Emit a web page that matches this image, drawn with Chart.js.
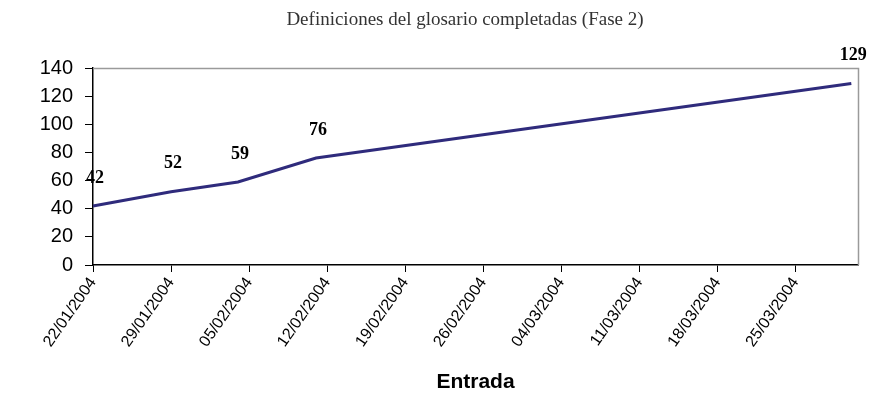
<!DOCTYPE html>
<html>
<head>
<meta charset="utf-8">
<script src="https://cdn.jsdelivr.net/npm/chart.js@4.4.1/dist/chart.umd.min.js"></script>
<style>
    html, body { margin: 0; padding: 0; background: #fff; }
    #wrap { width: 869px; height: 406px; }
</style>
</head>
<body>
<div id="wrap"><canvas id="glosarioChart"></canvas></div>
<script>
// datos
const fechas = ['22/01/2004', '29/01/2004', '04/02/2004', '11/02/2004', '30/03/2004'];
const definiciones = [42, 52, 59, 76, 129];
const semanas = ['22/01/2004', '29/01/2004', '05/02/2004', '12/02/2004', '19/02/2004',
    '26/02/2004', '04/03/2004', '11/03/2004', '18/03/2004', '25/03/2004'];
const ticksY = [0, 20, 40, 60, 80, 100, 120, 140];
const titulo = 'Definiciones del glosario completadas (Fase 2)';
const tituloEje = 'Entrada';

function dia(s) {
    const [d, m, y] = s.split('/').map(Number);
    return Math.round((Date.UTC(y, m - 1, d) - Date.UTC(2004, 0, 22)) / 864e5);
}

const puntos = fechas.map((f, i) => ({ x: dia(f), y: definiciones[i] }));

const marcoPlugin = {
    id: 'marco',
    beforeDatasetsDraw(chart) {
        const { ctx, chartArea: a } = chart;
        ctx.save();
        ctx.strokeStyle = '#9a9a9a';
        ctx.lineWidth = 1.5;
        ctx.beginPath();
        ctx.moveTo(a.left, a.top + 0.5);
        ctx.lineTo(a.right + 0.5, a.top + 0.5);
        ctx.lineTo(a.right + 0.5, a.bottom);
        ctx.stroke();
        ctx.restore();
    }
};

const etiquetasPlugin = {
    id: 'etiquetas',
    afterDatasetsDraw(chart) {
        const { ctx } = chart;
        const meta = chart.getDatasetMeta(0);
        ctx.save();
        ctx.font = 'bold 18px "Liberation Serif"';
        ctx.fillStyle = '#000';
        ctx.textAlign = 'center';
        ctx.textBaseline = 'middle';
        meta.data.forEach((p, i) => {
            ctx.fillText(String(definiciones[i]), p.x + 2, p.y - 28);
        });
        ctx.restore();
    }
};

const tituloPlugin = {
    id: 'tituloArriba',
    afterDraw(chart) {
        const { ctx } = chart;
        ctx.save();
        ctx.font = '19px "Liberation Serif"';
        ctx.fillStyle = '#333';
        ctx.textAlign = 'center';
        ctx.textBaseline = 'middle';
        ctx.fillText(titulo, 465, 20);
        ctx.restore();
    }
};

new Chart(document.getElementById('glosarioChart'), {
    type: 'line',
    data: {
        datasets: [{
            data: puntos,
            borderColor: '#2f2b7c',
            borderWidth: 3,
            pointRadius: 0,
            tension: 0,
            clip: false
        }]
    },
    options: {
        responsive: true,
        maintainAspectRatio: false,
        animation: false,
        layout: { padding: { top: 68, right: 11, left: 0, bottom: 0 } },
        plugins: { legend: { display: false }, tooltip: { enabled: false } },
        scales: {
            x: {
                type: 'linear',
                min: 0,
                max: 68.6,
                afterBuildTicks: (scale) => {
                    scale.ticks = semanas.map(s => ({ value: dia(s) }));
                },
                afterFit: (scale) => { scale.height = 141; },
                ticks: {
                    callback: (v, i) => semanas[i],
                    autoSkip: false,
                    minRotation: 55,
                    maxRotation: 55,
                    color: '#000',
                    padding: 2,
                    font: { family: '"Liberation Sans"', size: 16 }
                },
                grid: { drawOnChartArea: false, tickLength: 7, color: '#000' },
                border: { color: '#000', width: 1.5 }
            ,
                title: {
                    display: true,
                    text: tituloEje,
                    color: '#000',
                    font: { family: '"Liberation Sans"', size: 21, weight: 'bold' },
                    padding: { top: 0, bottom: 11 }
                }
            },
            y: {
                min: 0,
                max: 140,
                afterBuildTicks: (scale) => {
                    scale.ticks = ticksY.map(v => ({ value: v }));
                },
                afterFit: (scale) => { scale.width = 93; },
                ticks: {
                    autoSkip: false,
                    color: '#000',
                    padding: 12,
                    font: { family: '"Liberation Sans"', size: 20 }
                },
                grid: { drawOnChartArea: false, tickLength: 8, color: '#000' },
                border: { color: '#000', width: 1.5 }
            }
        }
    },
    plugins: [marcoPlugin, etiquetasPlugin, tituloPlugin]
});
</script>
</body>
</html>
